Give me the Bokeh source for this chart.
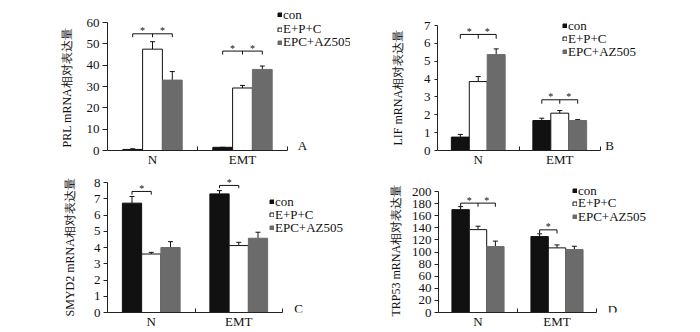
from bokeh.plotting import figure
from bokeh.layouts import row, column
from bokeh.models import (Range1d, FixedTicker, SingleIntervalTicker, Legend, LegendItem,
                          Whisker, TeeHead, Label, Title, ColumnDataSource)
from bokeh.core.properties import value
from bokeh.embed import file_html
from bokeh.resources import INLINE

categories = ["N", "EMT"]
series = ["con", "E+P+C", "EPC+AZ505"]

# Panel A: PRL
prl_con = [0.5, 1.5]
prl_con_err = [0.3, 0.0]
prl_epc = [47.5, 29.3]
prl_epc_err = [3.5, 1.2]
prl_az = [33.0, 38.0]
prl_az_err = [4.0, 1.6]
prl_brackets = [(0, 0, 2, 54.7, 1.6), (1, 0, 2, 46.6, 1.6)]

# Panel B: LIF
lif_con = [0.75, 1.68]
lif_con_err = [0.15, 0.13]
lif_epc = [3.86, 2.09]
lif_epc_err = [0.28, 0.15]
lif_az = [5.37, 1.68]
lif_az_err = [0.32, 0.05]
lif_brackets = [(0, 0, 2, 6.5, 0.24), (1, 0, 2, 2.84, 0.22)]

# Panel C: SMYD2
smyd2_con = [6.73, 7.30]
smyd2_con_err = [0.41, 0.20]
smyd2_epc = [3.60, 4.12]
smyd2_epc_err = [0.10, 0.20]
smyd2_az = [4.00, 4.57]
smyd2_az_err = [0.36, 0.37]
smyd2_brackets = [(0, 0, 1, 7.45, 0.2), (1, 0, 1, 7.82, 0.17)]

# Panel D: TRP53
trp53_con = [170.0, 125.5]
trp53_con_err = [5.0, 4.5]
trp53_epc = [137.0, 106.8]
trp53_epc_err = [5.6, 4.9]
trp53_az = [109.0, 104.0]
trp53_az_err = [9.0, 5.5]
trp53_brackets = [(0, 0, 2, 180.8, 6.0), (1, 0, 1, 136.6, 6.0)]

FILL = ["#111111", "#ffffff", "#6b6b6b"]
LINE = ["#111111", "#111111", "#6b6b6b"]
W = 0.22
SERIF = "Liberation Serif"
CW = 350
TOP_H, BOT_H = 170, 162
ROW_H = 13  # legend row height (px)


def xpos(cat, s):
    return cat + 0.5 + (s - 1) * W


def make_panel(vals, errs, ymax, interval, ylabel, letter, brackets, ch,
               geom, label_pos, legend_x, legend_rows, letter_loc, tick_out):
    # geom: axis-left px, axis-right px, axis-top px, axis-bottom px (within this cell)
    left, right_px, top_px, bottom_px = geom
    ncat = len(categories)
    x_end = ncat * (CW - left) / (right_px - left)
    y_end = ymax * bottom_px / (bottom_px - top_px)
    p = figure(width=CW, height=ch, x_range=Range1d(0, x_end), y_range=Range1d(0, y_end),
               output_backend="svg", toolbar_location=None,
               min_border_left=left, min_border_right=0,
               min_border_top=0, min_border_bottom=ch - bottom_px)
    p.outline_line_color = None
    p.xgrid.visible = False
    p.ygrid.visible = False
    p.background_fill_color = "white"
    p.border_fill_color = "white"

    renderers = []
    for s in range(3):
        xs = [xpos(c, s) for c in range(ncat)]
        src = ColumnDataSource(dict(x=xs, top=vals[s], up=[v + e for v, e in zip(vals[s], errs[s])]))
        r = p.vbar(x="x", top="top", bottom=0, width=W, source=src,
                   fill_color=FILL[s], line_color=LINE[s], line_width=1)
        renderers.append(r)
        wk = Whisker(source=src, base="x", lower="top", upper="up", dimension="height",
                     line_color="#111111", line_width=1,
                     upper_head=TeeHead(size=5, line_color="#111111", line_width=1),
                     lower_head=None)
        p.add_layout(wk)

    hx0, hx1, hy = [], [], []
    vx, vy0, vy1 = [], [], []
    sx, sy = [], []
    for (c, s0, s1, yv, d) in brackets:
        hx0.append(xpos(c, s0)); hx1.append(xpos(c, s1)); hy.append(yv)
        for s in range(s0, s1 + 1):
            vx.append(xpos(c, s)); vy0.append(yv); vy1.append(yv - d)
        for s in range(s0, s1):
            sx.append((xpos(c, s) + xpos(c, s + 1)) / 2); sy.append(yv)
    p.segment(x0=hx0, y0=hy, x1=hx1, y1=hy, line_color="#111111", line_width=1)
    p.segment(x0=vx, y0=vy0, x1=vx, y1=vy1, line_color="#111111", line_width=1)
    p.text(x=sx, y=sy, text=["*"] * len(sx), text_font=value(SERIF),
           text_font_size="10px", text_align="center", text_baseline="middle",
           y_offset=-3, text_color="#111111")

    # y axis
    ya = p.yaxis[0]
    ya.bounds = (0, ymax)
    ya.ticker = SingleIntervalTicker(interval=interval)
    ya.minor_tick_line_color = None
    ya.major_tick_out = tick_out
    ya.major_tick_in = 0
    ya.major_label_standoff = 3
    ya.major_label_text_font = SERIF
    ya.major_label_text_font_size = "13px"
    ya.axis_line_color = "#222222"
    ya.major_tick_line_color = "#222222"
    ya.major_label_text_color = "#111111"

    # y-axis title, placed along the bounded axis
    off, stand = label_pos
    p.add_layout(Title(text=ylabel, align="left", vertical_align="bottom", offset=off,
                       standoff=stand, text_font=SERIF, text_font_size="12px",
                       text_font_style="normal", text_color="#111111"), "left")

    # x axis
    xa = p.xaxis[0]
    xa.bounds = (0, ncat)
    xa.ticker = FixedTicker(ticks=[c + 0.5 for c in range(ncat)],
                            minor_ticks=[float(c + 1) for c in range(ncat)])
    xa.major_label_overrides = {c + 0.5: categories[c] for c in range(ncat)}
    xa.major_tick_line_color = None
    xa.major_tick_in = 0
    xa.major_tick_out = 0
    xa.minor_tick_in = 4
    xa.minor_tick_out = 0
    xa.minor_tick_line_color = "#222222"
    xa.major_label_standoff = 1
    xa.major_label_text_font = SERIF
    xa.major_label_text_font_size = "13px"
    xa.axis_line_color = "#222222"
    xa.major_label_text_color = "#111111"

    # legend: one row per series, each row centred at a given pixel height
    for s in range(3):
        lg = Legend(items=[LegendItem(label=series[s], renderers=[renderers[s]])],
                    location=(legend_x, bottom_px - legend_rows[s] - ROW_H / 2),
                    glyph_width=5, glyph_height=5, label_standoff=1,
                    spacing=0, padding=0, margin=0, label_height=ROW_H,
                    label_text_line_height=1.0,
                    label_text_font=SERIF, label_text_font_size="13px",
                    label_text_color="#111111",
                    border_line_color=None, background_fill_alpha=0)
        p.add_layout(lg)

    p.add_layout(Label(x=letter_loc[0], y=letter_loc[1], x_units="screen", y_units="screen",
                       text=letter, text_font=SERIF, text_font_size="13px",
                       text_align="center", text_baseline="middle", text_color="#111111"))
    return p


pA = make_panel([prl_con, prl_epc, prl_az], [prl_con_err, prl_epc_err, prl_az_err],
                60, 10, "PRL mRNA相对表达量", "A", prl_brackets, TOP_H,
                (107, 287, 22, 150), (3, 20), 170, (16, 30.5, 43.5), (195, 5), 5)
pB = make_panel([lif_con, lif_epc, lif_az], [lif_con_err, lif_epc_err, lif_az_err],
                7, 1, "LIF mRNA相对表达量", "B", lif_brackets, TOP_H,
                (87, 250, 25, 150), (5, 32), 125, (27, 40, 53), (172, 5), 3)
pC = make_panel([smyd2_con, smyd2_epc, smyd2_az], [smyd2_con_err, smyd2_epc_err, smyd2_az_err],
                8, 1, "SMYD2 mRNA相对表达量", "C", smyd2_brackets, BOT_H,
                (107, 282, 12, 142), (-4, 27), 162, (33, 46, 59), (191, 4), 4)
pD = make_panel([trp53_con, trp53_epc, trp53_az], [trp53_con_err, trp53_epc_err, trp53_az_err],
                200, 20, "TRP53 mRNA相对表达量", "D", trp53_brackets, BOT_H,
                (88, 246, 21, 142), (-4, 11), 134, (22, 34.5, 48), (174, 3), 4)

layout = column(row(pA, pB), row(pC, pD))
open("out.html", "w").write(file_html(layout, INLINE))
